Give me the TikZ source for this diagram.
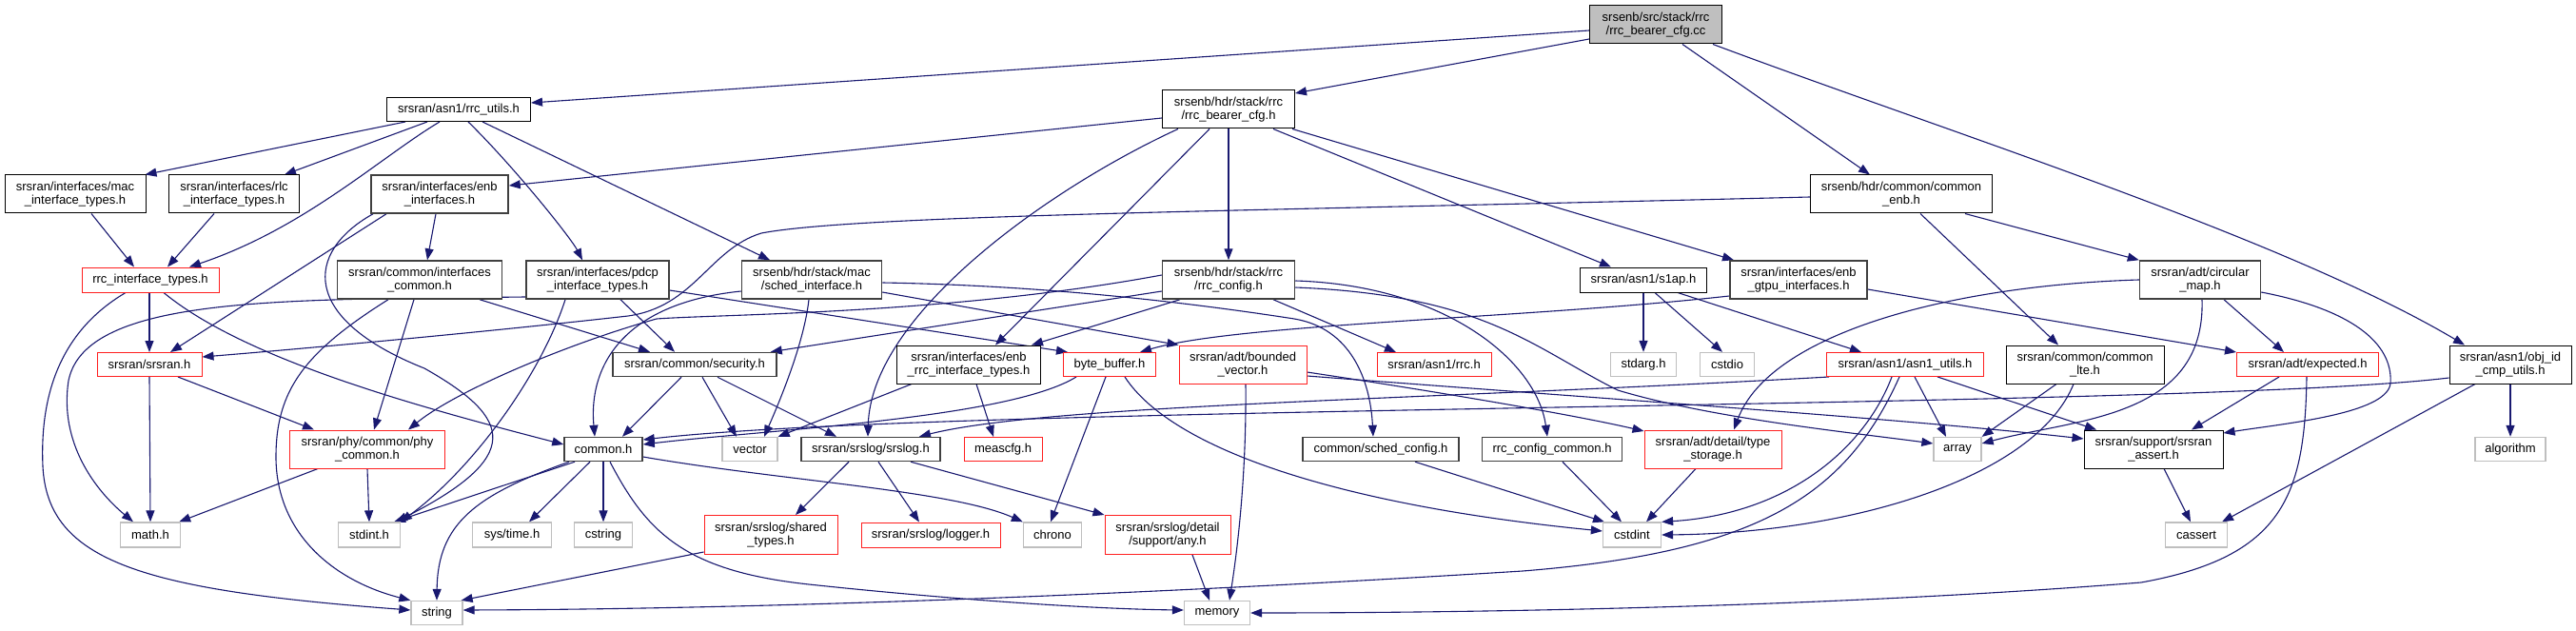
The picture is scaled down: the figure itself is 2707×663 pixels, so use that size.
\documentclass[tikz,border=0pt]{standalone}
\usepackage{fontspec}
\setmainfont{Liberation Sans}
\usetikzlibrary{arrows.meta}
\definecolor{edgeblue}{HTML}{191970}
\definecolor{leafgray}{HTML}{BFBFBF}
\definecolor{dkgray}{HTML}{404040}
\definecolor{rootfill}{HTML}{BFBFBF}
\definecolor{truncred}{HTML}{FF2020}
\pgfdeclarelayer{edgelayer}
\pgfsetlayers{edgelayer,main}
\begin{document}
\begin{tikzpicture}[x=1pt,y=-1pt,
  nd/.style={rectangle, fill=white, inner sep=0pt, align=center, font=\fontsize{13}{14.5}\selectfont},
  blk/.style={nd, draw=black, line width=1pt},
  dg/.style={nd, draw=dkgray, line width=1.5pt},
  trunc/.style={nd, draw=truncred, line width=1pt},
  leaf/.style={nd, draw=leafgray, line width=1.3pt},
  rootst/.style={nd, draw=black, line width=1pt, fill=rootfill},
  edg/.style={draw=edgeblue, line width=1.1pt, -{Triangle[length=12pt,width=9pt]}},
]
\useasboundingbox (0,0) rectangle (2707,663);
% row 1
\node[rootst, minimum width=139pt, minimum height=40pt] (root) at (1740,26) {srsenb/src/stack/rrc\\/rrc\_bearer\_cfg.cc};
% row 2
\node[blk, minimum width=151pt, minimum height=25pt] (rrcutils) at (482,115) {srsran/asn1/rrc\_utils.h};
\node[blk, minimum width=139pt, minimum height=40pt] (bearerh) at (1291,115) {srsenb/hdr/stack/rrc\\/rrc\_bearer\_cfg.h};
% row 3
\node[blk, minimum width=148pt, minimum height=40pt] (mac) at (79,204) {srsran/interfaces/mac\\\_interface\_types.h};
\node[blk, minimum width=137pt, minimum height=40pt] (rlc) at (246,204) {srsran/interfaces/rlc\\\_interface\_types.h};
\node[dg, minimum width=144pt, minimum height=40pt] (enbif) at (462,204) {srsran/interfaces/enb\\\_interfaces.h};
\node[blk, minimum width=191pt, minimum height=40pt] (commonenb) at (1998,204) {srsenb/hdr/common/common\\\_enb.h};
% row 4
\node[trunc, minimum width=144pt, minimum height=26pt] (rrcif) at (158,294) {rrc\_interface\_types.h};
\node[dg, minimum width=173pt, minimum height=40pt] (ifcommon) at (441,294) {srsran/common/interfaces\\\_common.h};
\node[dg, minimum width=150pt, minimum height=40pt] (pdcp) at (628,294) {srsran/interfaces/pdcp\\\_interface\_types.h};
\node[dg, minimum width=147pt, minimum height=40pt] (sched) at (853,294) {srsenb/hdr/stack/mac\\/sched\_interface.h};
\node[dg, minimum width=139pt, minimum height=40pt] (rrccfg) at (1291,294) {srsenb/hdr/stack/rrc\\/rrc\_config.h};
\node[blk, minimum width=133pt, minimum height=26pt] (s1ap) at (1727,294) {srsran/asn1/s1ap.h};
\node[dg, minimum width=144pt, minimum height=40pt] (gtpu) at (1890,294) {srsran/interfaces/enb\\\_gtpu\_interfaces.h};
\node[dg, minimum width=127pt, minimum height=40pt] (circmap) at (2312,294) {srsran/adt/circular\\\_map.h};
% row 5
\node[trunc, minimum width=110pt, minimum height=25pt] (srsranh) at (157,383) {srsran/srsran.h};
\node[dg, minimum width=172pt, minimum height=25pt] (security) at (730,383) {srsran/common/security.h};
\node[blk, minimum width=151pt, minimum height=40pt] (enbrrc) at (1018,383) {srsran/interfaces/enb\\\_rrc\_interface\_types.h};
\node[trunc, minimum width=97pt, minimum height=25pt] (bytebuf) at (1166,383) {byte\_buffer.h};
\node[trunc, minimum width=134pt, minimum height=40pt] (bvec) at (1306,383) {srsran/adt/bounded\\\_vector.h};
\node[trunc, minimum width=120pt, minimum height=25pt] (asnrrc) at (1507,383) {srsran/asn1/rrc.h};
\node[leaf, minimum width=69pt, minimum height=25pt] (stdarg) at (1727,383) {stdarg.h};
\node[leaf, minimum width=57pt, minimum height=25pt] (cstdio) at (1815,383) {cstdio};
\node[trunc, minimum width=165pt, minimum height=25pt] (asnutils) at (2002,383) {srsran/asn1/asn1\_utils.h};
\node[blk, minimum width=166pt, minimum height=40pt] (commonlte) at (2191,383) {srsran/common/common\\\_lte.h};
\node[trunc, minimum width=149pt, minimum height=25pt] (expected) at (2425,383) {srsran/adt/expected.h};
\node[blk, minimum width=128pt, minimum height=40pt] (objid) at (2638,383) {srsran/asn1/obj\_id\\\_cmp\_utils.h};
% row 6
\node[trunc, minimum width=163pt, minimum height=40pt] (phycommon) at (386,472) {srsran/phy/common/phy\\\_common.h};
\node[dg, minimum width=82pt, minimum height=25pt] (commonh) at (634,472) {common.h};
\node[leaf, minimum width=58pt, minimum height=25pt] (vector) at (788,472) {vector};
\node[dg, minimum width=146pt, minimum height=25pt] (srslog) at (915,472) {srsran/srslog/srslog.h};
\node[trunc, minimum width=82pt, minimum height=25pt] (meascfg) at (1054,472) {meascfg.h};
\node[dg, minimum width=164pt, minimum height=25pt] (schedcfg) at (1451,472) {common/sched\_config.h};
\node[dg, minimum width=147pt, minimum height=25pt] (rrccfgcommon) at (1631,472) {rrc\_config\_common.h};
\node[trunc, minimum width=144pt, minimum height=40pt] (typestorage) at (1800,472) {srsran/adt/detail/type\\\_storage.h};
\node[leaf, minimum width=50pt, minimum height=25pt] (array) at (2057,472) {array};
\node[blk, minimum width=146pt, minimum height=40pt] (assert) at (2263,472) {srsran/support/srsran\\\_assert.h};
\node[leaf, minimum width=74pt, minimum height=25pt] (algorithm) at (2638,472) {algorithm};
% row 7
\node[leaf, minimum width=63pt, minimum height=26pt] (math) at (158,562) {math.h};
\node[leaf, minimum width=65pt, minimum height=26pt] (stdint) at (388,562) {stdint.h};
\node[leaf, minimum width=83pt, minimum height=26pt] (systime) at (538,562) {sys/time.h};
\node[leaf, minimum width=61pt, minimum height=26pt] (cstring) at (634,562) {cstring};
\node[trunc, minimum width=140pt, minimum height=41pt] (shared) at (810,562) {srsran/srslog/shared\\\_types.h};
\node[trunc, minimum width=146pt, minimum height=26pt] (logger) at (978,562) {srsran/srslog/logger.h};
\node[leaf, minimum width=61pt, minimum height=26pt] (chrono) at (1106,562) {chrono};
\node[trunc, minimum width=132pt, minimum height=41pt] (any) at (1227,562) {srsran/srslog/detail\\/support/any.h};
\node[leaf, minimum width=61pt, minimum height=26pt] (cstdint) at (1715,562) {cstdint};
\node[leaf, minimum width=65pt, minimum height=26pt] (cassert) at (2308,562) {cassert};
% row 8
\node[leaf, minimum width=54pt, minimum height=25pt] (string) at (459,644) {string};
\node[leaf, minimum width=69pt, minimum height=25pt] (memory) at (1279,644) {memory};

\begin{pgfonlayer}{edgelayer}
\fill[white] (0,0) rectangle (2707,663);
% root
\draw[edg] ([yshift=-6pt]root.west) -- ([yshift=7pt]rrcutils.east);
\draw[edg] ([yshift=-15pt]root.west) -- ([yshift=17pt]bearerh.east);
\draw[edg] ([xshift=28pt]root.south) -- ([xshift=-33pt]commonenb.north);
\draw[edg] ([xshift=60pt]root.south) .. controls (2050,140) and (2400,250) .. ([xshift=-48pt]objid.north);
% rrc_utils
\draw[edg] ([xshift=-56pt]rrcutils.south) -- ([xshift=-1pt]mac.north east);
\draw[edg] ([xshift=-33pt]rrcutils.south) -- ([xshift=53pt]rlc.north);
\draw[edg] ([xshift=-20pt]rrcutils.south) .. controls (400,165) and (320,240) .. ([xshift=41pt]rrcif.north);
\draw[edg] ([xshift=10pt]rrcutils.south) .. controls (540,175) and (600,250) .. ([xshift=-16pt]pdcp.north);
\draw[edg] ([xshift=25pt]rrcutils.south) -- ([xshift=-44pt]sched.north);
% rrc_bearer_cfg.h
\draw[edg] ([yshift=-9pt]bearerh.west) -- ([yshift=9pt]enbif.east);
\draw[edg] ([xshift=-53pt]bearerh.south) .. controls (1104,197) and (915,330) .. ([xshift=-3pt]srslog.north);
\draw[edg] ([xshift=-20pt]bearerh.south) -- ([xshift=28pt]enbrrc.north);
\draw[edg] (bearerh.south) -- (rrccfg.north);
\draw[edg] ([xshift=47pt]bearerh.south) -- ([xshift=-34pt]s1ap.north);
\draw[edg] ([xshift=67pt]bearerh.south) -- ([xshift=-68pt]gtpu.north);
% mac, rlc, enb_interfaces
\draw[edg] ([xshift=17pt]mac.south) -- ([xshift=-17pt]rrcif.north);
\draw[edg] ([xshift=-21pt]rlc.south) -- ([xshift=18pt]rrcif.north);
\draw[edg] ([xshift=-4pt]enbif.south) -- ([xshift=8pt]ifcommon.north);
\draw[edg] ([xshift=-56pt]enbif.south) -- ([xshift=22pt]srsranh.north);
\draw[edg] ([xshift=-70pt]enbif.south) .. controls (320,265) and (315,335) .. (446,387) .. controls (540,440) and (550,480) .. ([xshift=28pt]stdint.north);
% common_enb
\draw[edg] ([xshift=67pt]commonenb.south) -- (circmap.north west);
\draw[edg] ([xshift=20pt]commonenb.south) -- ([xshift=-28pt]commonlte.north);
\draw[edg] ([yshift=-3pt]commonenb.west) .. controls (1300,222) and (900,226) .. (800,245) .. controls (745,262) and (730,322) .. (660,332) .. controls (500,350) and (300,368) .. ([yshift=8pt]srsranh.east);
% sched_interface
\draw[edg] ([yshift=-12pt]sched.west) .. controls (660,318) and (618,380) .. ([xshift=-9pt]commonh.north);
\draw[edg] ([xshift=-3pt]sched.south) .. controls (845,360) and (820,420) .. ([xshift=15pt]vector.north);
\draw[edg] ([yshift=-13pt]sched.east) -- (bvec.north west);
\draw[edg] ([yshift=-3pt]sched.east) .. controls (1100,300) and (1250,318) .. (1360,335) .. controls (1420,345) and (1440,400) .. ([xshift=-8pt]schedcfg.north);
% pdcp
\draw[edg] ([xshift=24pt]pdcp.south) -- ([xshift=-21pt]security.north);
\draw[edg] ([yshift=-11pt]pdcp.east) -- ([xshift=-44pt]bytebuf.north);
\draw[edg] ([xshift=-34pt]pdcp.south) .. controls (570,390) and (500,490) .. ([xshift=33pt]stdint.north);
\draw[edg] ([yshift=-18pt]pdcp.west) .. controls (300,315) and (90,310) .. (72,400) .. controls (62,465) and (100,515) .. ([xshift=-18pt]math.north);
% rrc_interface_types
\draw[edg] ([xshift=-1pt]rrcif.south) -- (srsranh.north);
\draw[edg] ([xshift=-26pt]rrcif.south) .. controls (60,350) and (42,420) .. (45,490) .. controls (50,590) and (150,620) .. ([yshift=3pt]string.west);
\draw[edg] ([xshift=14pt]rrcif.south) .. controls (260,380) and (450,430) .. ([yshift=5pt]commonh.west);
% srsran.h
\draw[edg] (srsranh.south) -- (math.north);
\draw[edg] ([xshift=30pt]srsranh.south) -- ([xshift=-56pt]phycommon.north);
% interfaces_common
\draw[edg] ([xshift=63pt]ifcommon.south) -- ([xshift=-47pt]security.north);
\draw[edg] ([xshift=-6pt]ifcommon.south) -- ([xshift=7pt]phycommon.north);
\draw[edg] ([xshift=-33pt]ifcommon.south) .. controls (320,370) and (290,410) .. (290,480) .. controls (290,560) and (350,610) .. (string.north west);
% common.h
\draw[edg] ([xshift=-30pt]commonh.south) -- ([xshift=26pt]stdint.north);
\draw[edg] ([xshift=-36pt]commonh.south) .. controls (500,520) and (460,550) .. (string.north);
\draw[edg] ([xshift=-14pt]commonh.south) -- ([xshift=18pt]systime.north);
\draw[edg] (commonh.south) -- (cstring.north);
\draw[edg] ([xshift=7pt]commonh.south) .. controls (680,560) and (720,600) .. (850,614) .. controls (1000,630) and (1150,640) .. ([yshift=3pt]memory.west);
\draw[edg] ([yshift=-8pt]commonh.east) .. controls (820,505) and (1000,515) .. (chrono.north west);
% security
\draw[edg] ([xshift=-14pt]security.south) -- ([xshift=20pt]commonh.north);
\draw[edg] ([xshift=8pt]security.south) -- ([xshift=-14pt]vector.north);
\draw[edg] ([xshift=24pt]security.south) -- ([xshift=-36pt]srslog.north);
% enb_rrc_interface_types
\draw[edg] ([xshift=-60pt]enbrrc.south) -- (vector.north east);
\draw[edg] ([xshift=8pt]enbrrc.south) -- ([xshift=-10pt]meascfg.north);
% byte_buffer
\draw[edg] ([xshift=-35pt]bytebuf.south) .. controls (1060,440) and (800,452) .. ([yshift=5pt]commonh.east);
\draw[edg] ([xshift=-4pt]bytebuf.south) -- ([xshift=-2pt]chrono.north);
\draw[edg] ([xshift=16pt]bytebuf.south) .. controls (1230,470) and (1400,530) .. ([yshift=4pt]cstdint.west);
% bounded_vector
\draw[edg] ([xshift=3pt]bvec.south) .. controls (1310,500) and (1300,580) .. ([xshift=13pt]memory.north);
\draw[edg] ([yshift=-12pt]bvec.east) .. controls (1700,420) and (2000,440) .. ([yshift=11pt]assert.west);
\draw[edg] ([yshift=-8pt]bvec.east) .. controls (1500,410) and (1650,435) .. ([yshift=19pt]typestorage.west);
% rrc_config
\draw[edg] ([xshift=-51pt]rrccfg.south) -- ([xshift=66pt]enbrrc.north);
\draw[edg] ([yshift=-12pt]rrccfg.west) -- ([xshift=-7pt]security.north east);
\draw[edg] ([xshift=47pt]rrccfg.south) -- ([xshift=-40pt]asnrrc.north);
\draw[edg] ([yshift=-1pt]rrccfg.east) .. controls (1520,300) and (1615,380) .. ([xshift=-5pt]rrccfgcommon.north);
\draw[edg] ([yshift=-8pt]rrccfg.east) .. controls (1560,310) and (1610,365) .. (1700,410) .. controls (1800,440) and (1950,455) .. ([yshift=6pt]array.west);
\draw[edg] ([yshift=5pt]rrccfg.west) .. controls (1000,330) and (760,330) .. (690,335) .. controls (600,360) and (480,410) .. ([xshift=43pt]phycommon.north);
% s1ap
\draw[edg] (s1ap.south) -- (stdarg.north);
\draw[edg] ([xshift=12pt]s1ap.south) -- ([xshift=-5pt]cstdio.north);
\draw[edg] ([xshift=36pt]s1ap.south) -- ([xshift=-46pt]asnutils.north);
% enb_gtpu_interfaces
\draw[edg] ([yshift=-10pt]gtpu.east) -- (expected.north west);
\draw[edg] ([yshift=-17pt]gtpu.west) .. controls (1600,335) and (1300,340) .. ([xshift=32pt]bytebuf.north);
% circular_map
\draw[edg] ([xshift=25pt]circmap.south) -- ([xshift=-25pt]expected.north);
\draw[edg] ([xshift=2pt]circmap.south) .. controls (2318,440) and (2180,440) .. ([yshift=6pt]array.east);
\draw[edg] ([yshift=-13pt]circmap.east) .. controls (2470,325) and (2515,360) .. (2512,403) .. controls (2508,435) and (2400,445) .. ([yshift=17pt]assert.east);
\draw[edg] (circmap.west) .. controls (2050,300) and (1860,350) .. ([xshift=22pt]typestorage.north);
% common_lte
\draw[edg] ([xshift=-30pt]commonlte.south) -- (array.north east);
\draw[edg] ([xshift=-12pt]commonlte.south) .. controls (2140,500) and (1950,560) .. (cstdint.east);
% asn1_utils
\draw[edg] ([xshift=10pt]asnutils.south) -- ([xshift=-12pt]array.north);
\draw[edg] ([xshift=34pt]asnutils.south) -- ([xshift=-60pt]assert.north);
\draw[edg] ([xshift=-14pt]asnutils.south) .. controls (1960,470) and (1880,540) .. (cstdint.north east);
\draw[edg] ([xshift=-6pt]asnutils.south) .. controls (1940,520) and (1850,580) .. (1600,600) .. controls (1200,625) and (800,640) .. ([yshift=3pt]string.east);
\draw[edg] ([xshift=-80pt]asnutils.south) .. controls (1500,420) and (1100,425) .. ([xshift=51pt]srslog.north);
% expected
\draw[edg] ([xshift=-1pt]expected.south) .. controls (2422,520) and (2400,585) .. (2250,612) .. controls (1900,640) and (1500,644) .. (memory.east);
\draw[edg] ([xshift=-30pt]expected.south) -- ([xshift=40pt]assert.north);
% obj_id_cmp_utils
\draw[edg] ([xshift=-37pt]objid.south) -- ([xshift=27pt]cassert.north);
\draw[edg] (objid.south) -- (algorithm.north);
\draw[edg] ([yshift=-14pt]objid.west) .. controls (2300,430) and (1000,425) .. ([yshift=10pt]commonh.east);
% srslog
\draw[edg] ([xshift=-23pt]srslog.south) -- ([xshift=26pt]shared.north);
\draw[edg] ([xshift=8pt]srslog.south) -- ([xshift=-12pt]logger.north);
\draw[edg] ([xshift=42pt]srslog.south) -- (any.north west);
\draw[edg] ([yshift=3pt]shared.south west) -- ([xshift=-2pt]string.north east);
\draw[edg] ([xshift=26pt]any.south) -- ([xshift=-8pt]memory.north);
% phy_common
\draw[edg] ([xshift=-52pt]phycommon.south) -- ([xshift=-2pt]math.north east);
\draw[edg] (phycommon.south) -- (stdint.north);
% lower
\draw[edg] ([xshift=11pt]assert.south) -- ([xshift=-6pt]cassert.north);
\draw[edg] ([xshift=-18pt]typestorage.south) -- ([xshift=15pt]cstdint.north);
\draw[edg] ([xshift=36pt]schedcfg.south) -- ([xshift=-29pt]cstdint.north);
\draw[edg] ([xshift=11pt]rrccfgcommon.south) -- ([xshift=-11pt]cstdint.north);
\end{pgfonlayer}
\end{tikzpicture}
\end{document}
